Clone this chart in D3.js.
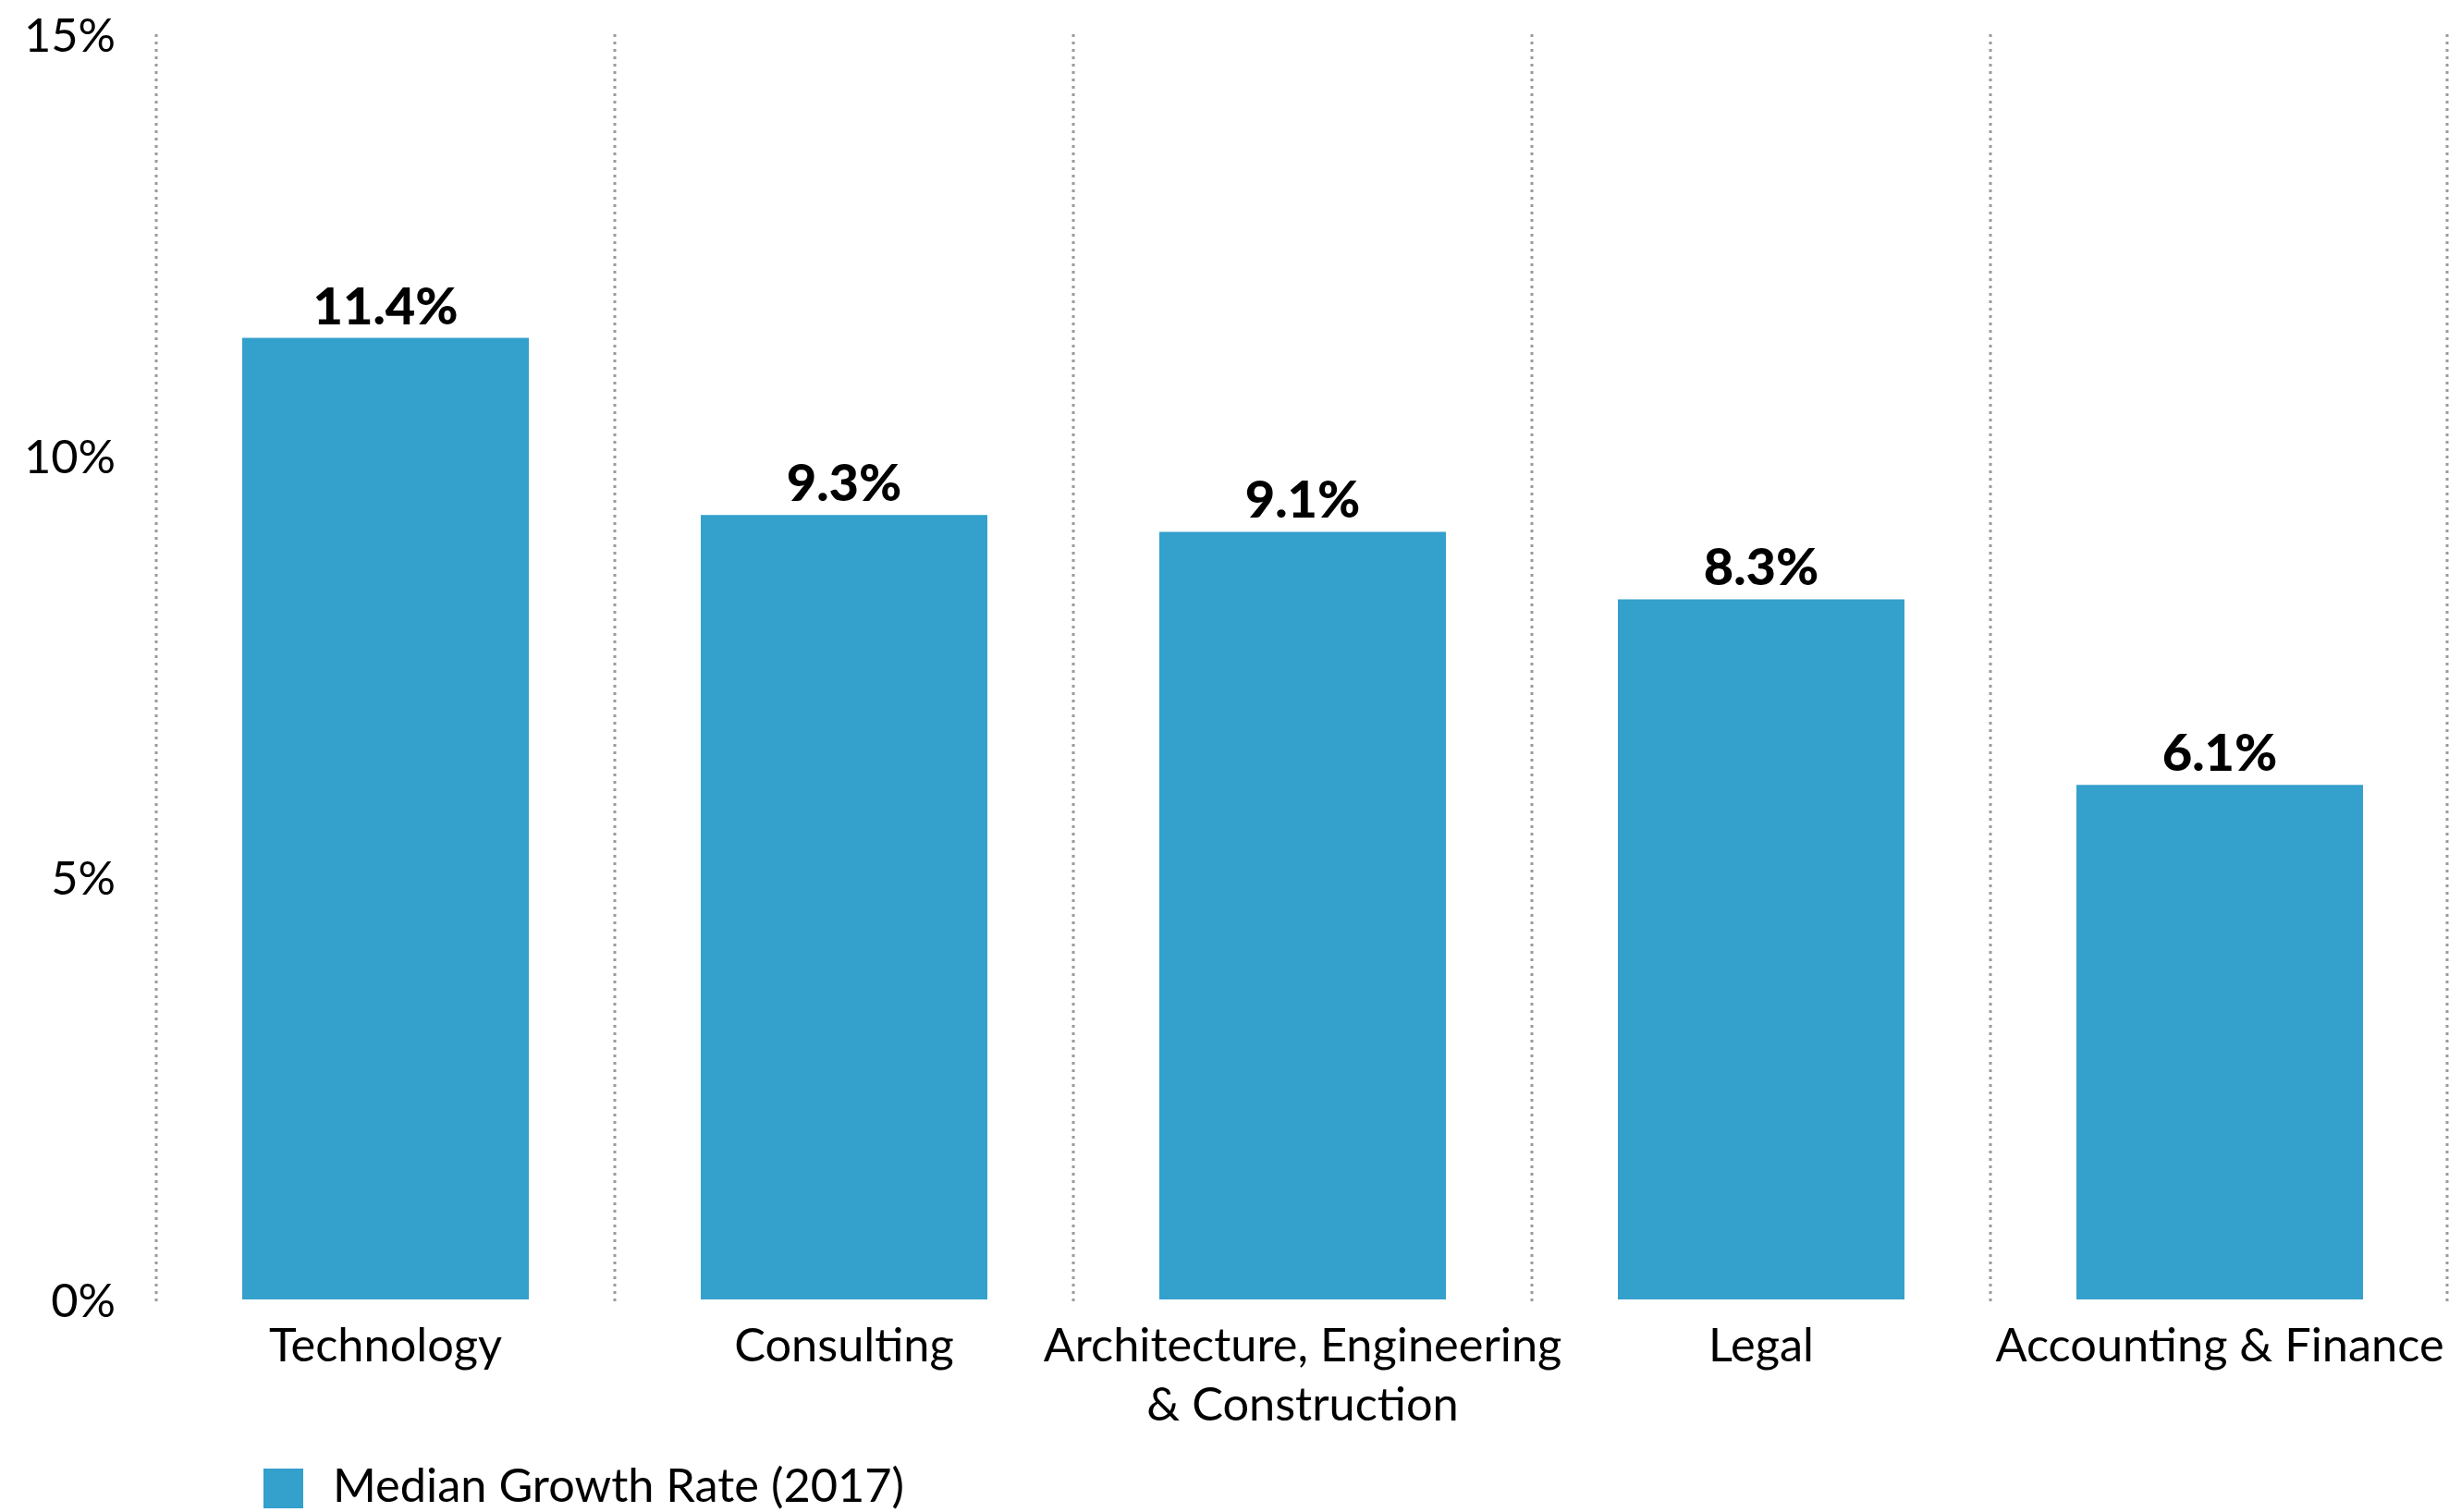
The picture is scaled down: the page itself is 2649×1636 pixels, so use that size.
<!DOCTYPE html>
<html>
<head>
<meta charset="utf-8">
<script src="https://cdn.jsdelivr.net/npm/d3@7/dist/d3.min.js"></script>
<style>
  html, body { margin: 0; padding: 0; background: #fff; }
  svg { display: block; }
  text { font-family: Lato, "Open Sans", sans-serif; fill: #000; }
</style>
</head>
<body>
<svg id="chart" width="2649" height="1636"></svg>
<script>
// Median growth rate by industry, 2017
const categories = [
  ["Technology"],
  ["Consulting"],
  ["Architecture, Engineering", "& Construction"],
  ["Legal"],
  ["Accounting & Finance"]
];
const values = [11.4, 9.3, 9.1, 8.3, 6.1];
const yTicks = [0, 5, 10, 15];
const seriesName = "Median Growth Rate (2017)";

const W = 2649, H = 1636;
const barColor = "#34a0cc";
const labelSize = 50.5;
const svg = d3.select("#chart");

const keys = categories.map(c => c.join(" "));
const x = d3.scaleBand()
  .domain(keys)
  .range([169, 2649])
  .paddingInner(0.375)
  .paddingOuter(0.1875);

const y = d3.scaleLinear().domain([0, 15]).range([1406, 37]);

// Dotted separators between categories
const sepXs = keys.map(k => x(k) - x.step() * x.paddingInner() / 2);
sepXs.push(x.range()[1] - 2);
svg.append("g").selectAll("line").data(sepXs).join("line")
  .attr("x1", d => d).attr("x2", d => d)
  .attr("y1", y(15)).attr("y2", y(0) + 2)
  .attr("stroke", "#9a9a9a")
  .attr("stroke-width", 3)
  .attr("stroke-dasharray", "3,5");

// Y axis labels
const yAxis = d3.axisLeft(y)
  .tickValues(yTicks)
  .tickFormat(d => d + "%")
  .tickSize(0)
  .tickPadding(0);
const yg = svg.append("g").attr("transform", "translate(125,0)").call(yAxis);
yg.select(".domain").remove();
yg.selectAll("text")
  .attr("font-family", "Lato, sans-serif")
  .attr("font-size", labelSize)
  .attr("font-weight", 400)
  .attr("fill", "#000")
  .attr("dy", "0.36em");

// Bars
svg.append("g").selectAll("rect").data(values).join("rect")
  .attr("x", (d, i) => x(keys[i]))
  .attr("y", d => y(d))
  .attr("width", x.bandwidth())
  .attr("height", d => y(0) - y(d))
  .attr("fill", barColor);

// Value labels
svg.append("g").selectAll("text").data(values).join("text")
  .attr("x", (d, i) => x(keys[i]) + x.bandwidth() / 2)
  .attr("y", d => y(d) - 15)
  .attr("text-anchor", "middle")
  .attr("font-size", 56)
  .attr("font-weight", 900)
  .text(d => d.toFixed(1) + "%");

// Category labels
const cg = svg.append("g").selectAll("text").data(categories).join("text")
  .attr("x", (d, i) => x(keys[i]) + x.bandwidth() / 2)
  .attr("y", 1473)
  .attr("text-anchor", "middle")
  .attr("font-size", labelSize)
  .attr("font-weight", 400);
cg.selectAll("tspan").data(d => d).join("tspan")
  .attr("x", function () { return d3.select(this.parentNode).attr("x"); })
  .attr("dy", (d, i) => i === 0 ? 0 : 64)
  .text(d => d);

// Legend
const lg = svg.append("g");
lg.append("rect").attr("x", 285).attr("y", 1589).attr("width", 43).attr("height", 43).attr("fill", barColor);
lg.append("text").attr("x", 360).attr("y", 1625)
  .attr("font-size", labelSize).attr("font-weight", 400)
  .text(seriesName);
</script>
</body>
</html>
